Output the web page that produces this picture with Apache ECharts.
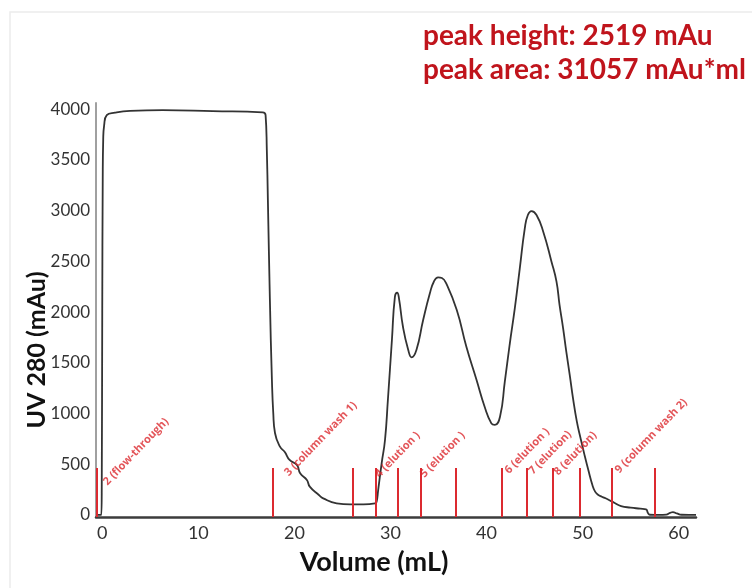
<!DOCTYPE html>
<html>
<head>
<meta charset="utf-8">
<script src="https://cdn.jsdelivr.net/npm/echarts@6/dist/echarts.min.js"></script>
<style>
  html, body { margin: 0; padding: 0; background: #ffffff; }
  #chart { width: 752px; height: 588px; }
</style>
</head>
<body>
<div id="chart"></div>
<script>
// UV 280 nm trace of the run (volume in mL, absorbance in mAu)
const volume = [
  -0.65, -0.1, -0.05, 0.0, 0.05, 0.1, 0.2, 0.47, 1.33, 2.9, 6.3, 11.5, 16.7, 17.0,
  17.13, 17.24, 17.45, 17.66, 17.8, 17.98, 18.5, 19.0, 19.5, 20.26, 20.6, 21.3, 21.6,
  22.55, 23.0, 24.4, 25.8, 27.2, 28.4, 28.55,
  28.72, 29.08, 29.43, 29.73, 30.15, 30.46, 30.7, 30.88, 31.3, 31.85, 32.2, 32.7,
  33.4, 34.1, 34.5, 34.96, 35.35, 35.8, 36.9, 37.9, 38.96, 39.8, 40.5, 40.86,
  41.4, 41.9, 42.4, 42.94, 43.46, 43.98, 44.3, 44.68, 45.2, 45.9, 46.76, 47.28,
  47.6, 47.97, 48.3, 48.66, 49.0, 49.4, 49.8, 50.2, 50.6, 51.0, 51.3, 51.6, 52.0,
  52.6, 53.3, 54.0, 55.0, 56.0, 56.6, 56.8, 57.0, 58.0, 58.7, 59.1, 59.4, 59.8,
  60.3, 61.8
];
const uv280 = [
  0, 0, 300, 2000, 3300, 3700, 3842, 3940, 3965, 3983, 3990, 3980, 3967, 3940,
  3596, 3103, 2118, 1330, 1005, 808, 673, 620, 542, 493, 411, 345, 279,
  197, 164, 115, 105, 105, 115, 128,
  246, 509, 739, 1133, 1724, 2150, 2190, 2138, 1855, 1626, 1554, 1626,
  1921, 2184, 2296, 2342, 2335, 2283, 2020, 1658, 1330, 1067, 903, 887,
  968, 1313, 1675, 2036, 2430, 2825, 2956, 2995, 2956, 2791, 2496, 2299,
  2069, 1839, 1609, 1379, 1150, 920, 750, 590, 440, 300, 230, 200, 180,
  155, 120, 88, 72, 62, 55, 20, 2, 0, 3, 20, 28, 15,
  2, 0
];

// Fraction boundaries (mL) and the fraction names written next to them
const fractionMarks = [-0.55, 17.74, 26.09, 28.48, 30.72, 33.16, 36.77, 41.59, 44.16, 46.86, 49.7, 53.0, 57.5];
const fractionMarkHeight = 463;
const fractionNames = [
  '2 (flow-through)', '3 (column wash 1)', '4 (elution )', '5 (elution )',
  '6 (elution )', '7 (elution)', '8 (elution)', '9 (column wash 2)'
];
// index of the boundary each name starts from
const fractionNameAt = [0, 1, 3, 5, 7, 8, 9, 11];

const yTicks = [0, 500, 1000, 1500, 2000, 2500, 3000, 3500, 4000];
const xTicks = [0, 10, 20, 30, 40, 50, 60];

const summaryLines = ['peak height: 2519 mAu', 'peak area: 31057 mAu*ml'];
const yTitle = 'UV 280 (mAu)';
const xTitle = 'Volume (mL)';

// label nudges: [dx in px, baseline level in mAu]
const nameNudge = [[12, 225], [20, 258], [2, 372], [2, 372], [7, 372], [6, 372], [5, 372], [8, 372]];

const RED = '#dc2a30';
const FONT = 'Lato, "Open Sans", sans-serif';

const trace = volume.map((v, i) => [v, uv280[i]]);

const markLines = fractionMarks.map(v => [
  { coord: [v, -20] },
  { coord: [v, fractionMarkHeight] }
]);

const nameData = fractionNames.map((name, i) => ({
  value: [fractionMarks[fractionNameAt[i]], nameNudge[i][1]],
  name: name,
  label: { offset: [nameNudge[i][0], 0] }
}));

const chart = echarts.init(document.getElementById('chart'), null, { renderer: 'canvas' });

chart.setOption({
  backgroundColor: '#ffffff',
  animation: false,
  grid: { left: 96, right: 56, top: 103, bottom: 71 },
  xAxis: {
    type: 'value',
    min: -0.65,
    max: 61.8,
    axisLine: { show: true, onZero: false, lineStyle: { color: '#3c3c3c', width: 2.5 } },
    axisTick: { show: false },
    splitLine: { show: false },
    axisLabel: {
      customValues: xTicks,
      formatter: v => String(v),
      color: '#333',
      fontSize: 18,
      fontFamily: FONT,
      margin: 7
    }
  },
  yAxis: {
    type: 'value',
    min: -20,
    max: 4060,
    axisLine: { show: true, onZero: false, lineStyle: { color: '#a0a0a0', width: 2 } },
    axisTick: { show: false },
    splitLine: { show: false },
    axisLabel: {
      customValues: yTicks,
      formatter: v => String(v),
      color: '#333',
      fontSize: 17,
      fontFamily: FONT,
      margin: 6
    }
  },
  graphic: [
    { type: 'rect', silent: true, z: -10, shape: { x: 10, y: 12, width: 760, height: 600 },
      style: { fill: 'none', stroke: '#ececec', lineWidth: 1.5 } },
    { type: 'text', left: 423, top: 22, style: { text: summaryLines[0], fill: '#c0141c',
      font: 'bold 28px ' + FONT } },
    { type: 'text', left: 423, top: 56, style: { text: summaryLines[1], fill: '#c0141c',
      font: 'bold 28px ' + FONT } },
    { type: 'text', x: 37, y: 350, rotation: Math.PI / 2,
      style: { text: yTitle, fill: '#111', font: 'bold 25px ' + FONT, align: 'center', verticalAlign: 'middle' } },
    { type: 'text', x: 374, y: 562,
      style: { text: xTitle, fill: '#111', font: 'bold 27px ' + FONT, align: 'center', verticalAlign: 'middle' } }
  ],
  series: [
    {
      type: 'line',
      data: trace,
      showSymbol: false,
      smooth: 0.5,
      lineStyle: { color: '#333', width: 1.8 },
      z: 3,
      markLine: {
        silent: true,
        symbol: ['none', 'none'],
        label: { show: false },
        lineStyle: { color: RED, width: 2, type: 'solid' },
        data: markLines
      }
    },
    {
      type: 'scatter',
      data: nameData,
      symbolSize: 0,
      z: 4,
      label: {
        show: true,
        position: 'inside',
        formatter: p => p.name,
        rotate: 46,
        align: 'left',
        verticalAlign: 'middle',
        color: RED,
        fontSize: 11,
        fontWeight: 'bold',
        fontFamily: '"Open Sans", Lato, sans-serif'
      }
    }
  ]
});
</script>
</body>
</html>
